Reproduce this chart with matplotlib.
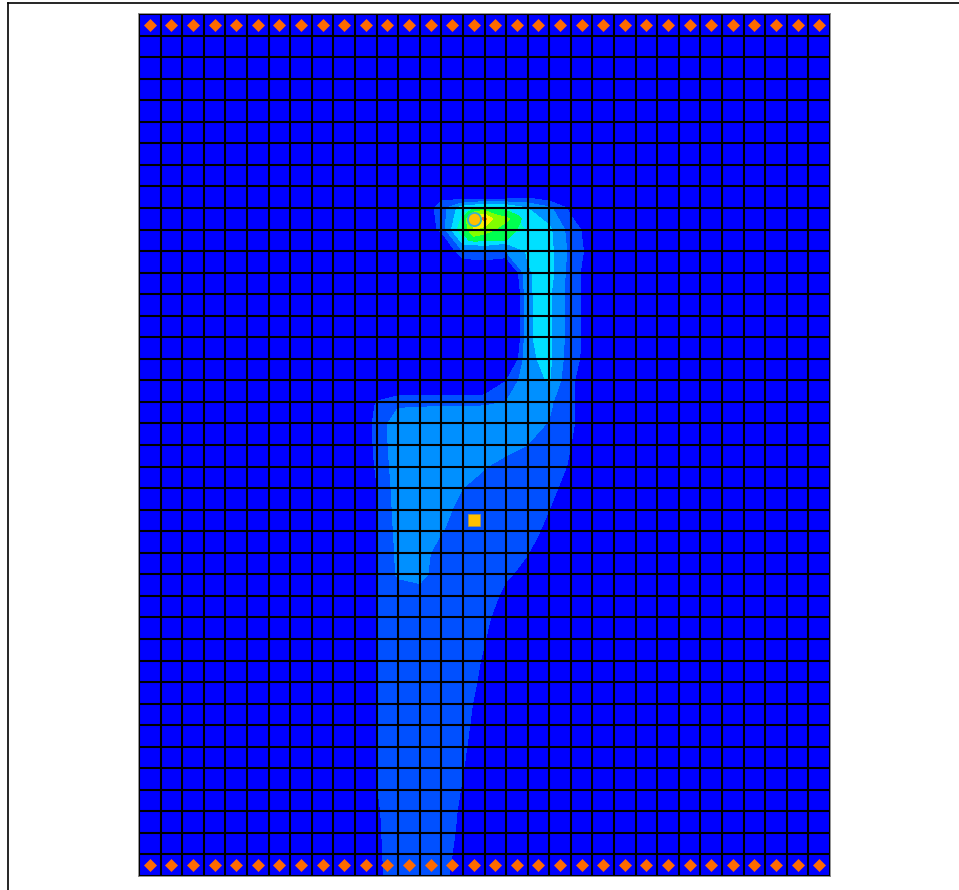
import numpy as np
import matplotlib
matplotlib.use("Agg")
import matplotlib.pyplot as plt
from matplotlib.lines import Line2D

n_cols = 32
n_rows = 40

# head values at grid nodes, columns 10..21, rows 8..40 (all other nodes 0)
first_col = 10
first_row = 8
head_rows = [
    [0, 0, 0, 0, 0, -3, -3.9, -3.4, -1.4, -1.5, 0, 0],
    [0, 0, 0, 0, 1.5, 3.6, 4.4, 4.1, 2.99, 2.2, .7, 0],
    [0, 0, 0, 0, 1.25, 5, 5.5, 4.6, 3.9, 3.2, 1.5, .4],
    [0, 0, 0, -.2, -1, 2.05, 2.1, 2.1, 3.1, 3.3, 1.7, .5],
    [0, 0, 0, 0, 0, -1, -.6, -1.5, 2.9, 3.4, 1.5, .35],
    [0, 0, 0, 0, 0, 0, 0, -3, 2.95, 3.15, 1.5, .35],
    [0, 0, 0, 0, 0, 0, 0, -3, 2.95, 3.15, 1.5, .4],
    [0, 0, 0, 0, 0, 0, 0, -3, 2.95, 3.15, 1.5, .4],
    [0, 0, 0, 0, 0, 0, 0, -1.5, 2.85, 3.2, 1.35, .5],
    [0, -.5, -.8, -.8, -.8, -.8, -.8, .95, 2.75, 3.05, 1.1, .5],
    [0, 1.05, 1.7, 1.75, 1.8, 1.8, 1.85, 2.0, 2.5, 2.2, 1.1, .5],
    [0, 1.25, 2.7, 2.75, 2.75, 2.75, 2.65, 2.55, 2.3, 1.95, 1.1, .5],
    [0, 1.2, 2.7, 2.85, 2.8, 2.7, 2.5, 2.3, 1.99, 1.6, 1.0, .4],
    [0, 1.1, 2.6, 2.8, 2.7, 2.4, 2.05, 1.7, 1.5, 1.2, .95, 0],
    [0, .96, 2.5, 2.7, 2.5, 2.0, 1.7, 1.6, 1.4, 1.1, .85, 0],
    [0, .96, 2.4, 2.6, 2.3, 1.7, 1.6, 1.5, 1.3, 1.0, .5, 0],
    [0, .96, 2.3, 2.5, 2.05, 1.6, 1.5, 1.4, 1.2, .85, 0, 0],
    [0, .96, 2.2, 2.4, 1.6, 1.5, 1.4, 1.3, 1.02, .7, 0, 0],
    [0, .96, 2.15, 2.3, 1.5, 1.4, 1.3, 1.1, .8, 0, 0, 0],
    [0, .96, 1.4, 1.6, 1.5, 1.45, 1.4, .8, 0, 0, 0, 0],
    [0, .96, 1.4, 1.4, 1.4, 1.3, 1.2, .51, 0, 0, 0, 0],
    [0, .96, 1.4, 1.4, 1.4, 1.3, 1.03, .45, 0, 0, 0, 0],
    [0, .96, 1.4, 1.4, 1.4, 1.4, .91, 0, 0, 0, 0, 0],
    [0, .96, 1.4, 1.4, 1.4, 1.4, .78, 0, 0, 0, 0, 0],
    [0, .96, 1.4, 1.4, 1.4, 1.3, .63, 0, 0, 0, 0, 0],
    [0, .96, 1.4, 1.4, 1.4, 1.2, .57, 0, 0, 0, 0, 0],
    [0, .96, 1.4, 1.4, 1.4, 1.1, .55, 0, 0, 0, 0, 0],
    [0, .97, 1.5, 1.5, 1.4, 1.02, .6, 0, 0, 0, 0, 0],
    [0, .97, 1.5, 1.5, 1.4, .95, 0, 0, 0, 0, 0, 0],
    [0, .88, 1.5, 1.5, 1.3, .89, 0, 0, 0, 0, 0, 0],
    [0, .84, 1.5, 1.5, 1.3, .83, 0, 0, 0, 0, 0, 0],
    [0, .8, 1.5, 1.5, 1.3, .7, 0, 0, 0, 0, 0, 0],
    [0, .75, 1.5, 1.5, 1.3, .47, 0, 0, 0, 0, 0, 0],
]
head_levels = [-10, 1, 2, 3, 4, 5, 20]
head_colors = ["#0000ff", "#0050ff", "#0090ff", "#00e0ff", "#00ffb4", "#00ff50"]

# finer values around the source cell
core_x = [14.5, 15, 15.5, 16, 16.5, 17, 17.5, 18]
core_y = [8.5, 9, 9.5, 10, 10.5, 11]
core_rows = [
    [0, 0, 0, 0, 0, 0, 0, 0],
    [0, 4, 5, 5.3, 5, 4.6, 3.8, 3],
    [0, 5.2, 7.6, 8.3, 6.6, 6.2, 5.6, 4.2],
    [0, 5.2, 7, 6.5, 6, 5.5, 5, 4],
    [0, 4.5, 5.4, 5.3, 5.1, 5.05, 4.2, 3],
    [0, 0, 0, 0, 0, 0, 0, 0],
]
core_levels = [5, 6, 7, 8, 10]
core_colors = ["#00ff50", "#80ff00", "#fff000", "#ff7000"]

# fixed-head cells along the top and bottom rows
boundary_rows = [0.5, 39.5]
boundary_cols = np.arange(n_cols) + 0.5
source_xy = (15.5, 9.5)
well_xy = (15.5, 23.5)

head = np.zeros((n_rows + 1, n_cols + 1))
block = np.array(head_rows)
head[first_row:first_row + block.shape[0], first_col:first_col + block.shape[1]] = block

fig = plt.figure(figsize=(9.59, 8.9), dpi=100)
ax = fig.add_axes([139 / 959, 14 / 890, 691 / 959, 862 / 890])

x = np.arange(n_cols + 1)
y = np.arange(n_rows + 1)
ax.contourf(x, y, head, levels=head_levels, colors=head_colors)
ax.contourf(core_x, core_y, np.array(core_rows), levels=core_levels, colors=core_colors)

ax.set_xlim(0, n_cols)
ax.set_ylim(n_rows, 0)
ax.set_xticks(x)
ax.set_yticks(y)
ax.tick_params(length=0, labelbottom=False, labelleft=False)
ax.set_axisbelow(False)
ax.grid(True, color="black", linewidth=1.5)
for s in ax.spines.values():
    s.set_color("#808080")
    s.set_linewidth(1.2)
    s.set_zorder(1.5)

for r in boundary_rows:
    ax.plot(boundary_cols, [r] * n_cols, ls="none", marker="D", ms=6.6, mfc="#ff6a00",
            mec="#ff6a00", mew=0.5, zorder=4, clip_on=False)
ax.plot(*source_xy, marker="o", ms=9.5, mfc="#ffc000", mec="#30b4d0", mew=1.3, zorder=5)
ax.plot(*well_xy, marker="s", ms=8.5, mfc="#ffc000", mec="#a09060", mew=0.6, zorder=5)

# outer frame, only left and top show in the picture
fig.add_artist(Line2D([8 / 959, 8 / 959], [0, 1 - 3 / 890], color="black", lw=1.2))
fig.add_artist(Line2D([8 / 959, 1], [1 - 3 / 890, 1 - 3 / 890], color="black", lw=1.2))

fig.savefig("out.png", dpi=100)
